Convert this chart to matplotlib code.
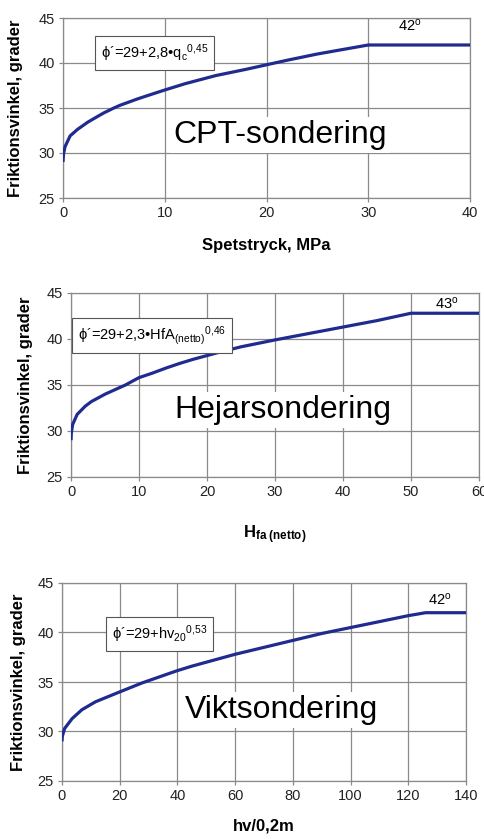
#!/usr/bin/env python3

from matplotlib import pyplot as plt

plt.rcParams["font.family"] = ["Liberation Sans", "DejaVu Sans"]
plt.rcParams["mathtext.fontset"] = "custom"
plt.rcParams["mathtext.rm"] = "Liberation Sans"
plt.rcParams["mathtext.it"] = "Liberation Sans"
plt.rcParams["mathtext.bf"] = "Liberation Sans:bold"

# values
cpt_x = [0, 0.05, 0.2, 0.7, 1.4, 2.4, 3, 4, 5, 5.6, 7.3, 8.5, 10, 12, 15, 18, 20,
         22, 25, 28, 30, 40]
cpt_y = [29.0, 29.9, 30.7, 31.9, 32.6, 33.4, 33.8, 34.45, 35.0, 35.3, 36.0, 36.45,
         37.0, 37.7, 38.6, 39.3, 39.8, 40.3, 41.0, 41.6, 42.0, 42.0]

hejar_x = [0, 0.05, 0.24, 0.9, 2.1, 3, 4, 5, 6.5, 8, 10, 12, 14, 16, 18, 20, 22,
           25, 28, 30, 35, 40, 45, 50, 60]
hejar_y = [29.0, 29.8, 30.7, 31.8, 32.7, 33.2, 33.6, 34.0, 34.5, 35.0, 35.8, 36.3,
           36.85, 37.35, 37.8, 38.2, 38.6, 39.15, 39.6, 39.9, 40.6, 41.3, 42.0,
           42.8, 42.8]

vikt_x = [0, 0.1, 0.9, 3.5, 6.9, 11.6, 20, 27.7, 38, 40, 45, 50, 60, 70, 80, 90,
          100, 110, 120, 126, 140]
vikt_y = [29.0, 29.5, 30.3, 31.3, 32.2, 33.0, 34.0, 34.9, 35.95, 36.15, 36.6, 37.0,
          37.8, 38.5, 39.2, 39.9, 40.5, 41.1, 41.7, 42.0, 42.0]

y_ticks = [25, 30, 35, 40, 45]
YLABEL = "Friktionsvinkel, grader"
LINE_COLOR = "#1f2b8e"
GRID_COLOR = "#8a8a8a"

panels = [
    dict(rect=[63 / 485, 1 - 198 / 839, 407 / 485, 180 / 839],
         x=cpt_x, y=cpt_y, xmax=40, xticks=[0, 10, 20, 30, 40],
         xlabel="Spetstryck, MPa", xlab_y=-0.22, ylab_x=-0.098,
         eq="ϕ´=29+2,8•q$_{\\mathrm{c}}{}^{0{,}45}$", eq_xy=(3.7, 41.1),
         name="CPT-sondering", name_xy=(21.3, 32.0),
         lim="42$^{\\mathrm{o}}$", lim_xy=(34.1, 44.1)),
    dict(rect=[71 / 485, 1 - 477 / 839, 408 / 485, 184 / 839],
         x=hejar_x, y=hejar_y, xmax=60, xticks=[0, 10, 20, 30, 40, 50, 60],
         xlabel="$\\mathbf{H}_{\\mathbf{fa\\ (netto)}}$", xlab_y=-0.25, ylab_x=-0.092,
         eq="ϕ´=29+2,3•HfA$_{\\mathrm{(netto)}}{}^{0{,}46}$", eq_xy=(1.0, 40.4),
         name="Hejarsondering", name_xy=(31.2, 32.3),
         lim="43$^{\\mathrm{o}}$", lim_xy=(55.3, 43.8)),
    dict(rect=[62 / 485, 1 - 781 / 839, 404 / 485, 198 / 839],
         x=vikt_x, y=vikt_y, xmax=140, xticks=list(range(0, 141, 20)),
         xlabel="hv/0,2m", xlab_y=-0.19, ylab_x=-0.09,
         eq="ϕ´=29+hv$_{\\mathrm{20}}{}^{0{,}53}$", eq_xy=(17.2, 39.85),
         name="Viktsondering", name_xy=(76.2, 32.2),
         lim="42$^{\\mathrm{o}}$", lim_xy=(131, 43.3)),
]

fig = plt.figure(figsize=(4.85, 8.39), dpi=100)

for p in panels:
    ax = fig.add_axes(p["rect"])
    ax.plot(p["x"], p["y"], color=LINE_COLOR, lw=2.3, solid_capstyle="butt", zorder=3)
    ax.set_xlim(0, p["xmax"])
    ax.set_ylim(25, 45)
    ax.set_xticks(p["xticks"])
    ax.set_yticks(y_ticks)
    ax.grid(True, color=GRID_COLOR, lw=0.9)
    ax.set_axisbelow(True)
    for s in ax.spines.values():
        s.set_color(GRID_COLOR)
        s.set_linewidth(0.9)
    ax.tick_params(length=3, width=0.9, color=GRID_COLOR, labelsize=10.5,
                   labelcolor="#222222", pad=3)
    ax.set_xlabel(p["xlabel"], fontsize=12, fontweight="bold")
    ax.xaxis.set_label_coords(0.5, p["xlab_y"])
    ax.set_ylabel(YLABEL, fontsize=12, fontweight="bold")
    ax.yaxis.set_label_coords(p["ylab_x"], 0.5)

    ax.text(*p["eq_xy"], p["eq"], fontsize=10.5, ha="left", va="center", zorder=4,
            bbox=dict(boxstyle="square,pad=0.4", fc="white", ec="#555555", lw=0.8))
    ax.text(*p["name_xy"], p["name"], fontsize=23, ha="center", va="center", zorder=2,
            bbox=dict(boxstyle="square,pad=0.1", fc="white", ec="none"))
    ax.text(*p["lim_xy"], p["lim"], fontsize=10.5, ha="center", va="center", zorder=4)

plt.savefig("out.png", dpi=100)
